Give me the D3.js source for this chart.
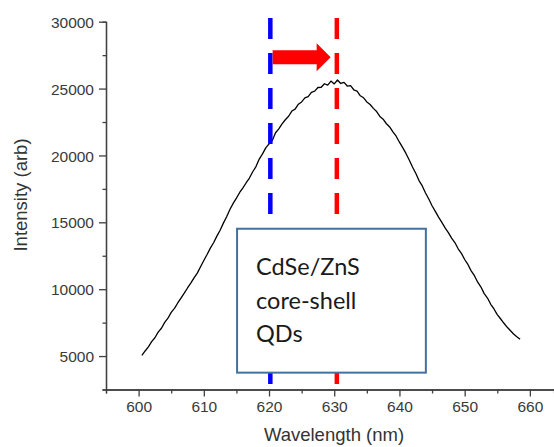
<!doctype html>
<html>
  <head>
    <style>
      body { margin: 0; background: white; }
      svg { display: block; font-family: 'Liberation Sans', Arial, sans-serif; }
      .axis path, .axis line { stroke: #404040; stroke-width: 1.3; }
      .axis text { fill: #3a3a3a; font-size: 15.5px; }
      .title { fill: #333; font-size: 18.5px; }
      .note { fill: #1a1a1a; font-size: 23.5px; font-family: 'Lato', 'Liberation Sans', sans-serif; }
    </style>
    <script src="https://d3js.org/d3.v7.min.js"></script>
  </head>
  <body onload='init()'>
    <svg id="chart" width=554 height=447></svg>
    <script>
      // spectrum, 0.5 nm steps
      var wavelength = [
        600.5,601,601.5,602,602.5,603,603.5,604,604.5,605,605.5,606,606.5,607,607.5,608,608.5,609,609.5,610,
        610.5,611,611.5,612,612.5,613,613.5,614,614.5,615,615.5,616,616.5,617,617.5,618,618.5,619,619.5,620,
        620.5,621,621.5,622,622.5,623,623.5,624,624.5,625,625.5,626,626.5,627,627.5,628,628.5,629,629.5,630,
        630.5,631,631.5,632,632.5,633,633.5,634,634.5,635,635.5,636,636.5,637,637.5,638,638.5,639,639.5,640,
        640.5,641,641.5,642,642.5,643,643.5,644,644.5,645,645.5,646,646.5,647,647.5,648,648.5,649,649.5,650,
        650.5,651,651.5,652,652.5,653,653.5,654,654.5,655,655.5,656,656.5,657,657.5,658,658.5
      ];
      var intensity = [
        5050,5380,5690,6080,6370,6790,7080,7520,7830,8270,8570,8970,9340,9700,10090,10450,10850,11200,11680,12140,
        12590,13070,13470,13970,14410,14940,15420,15960,16420,16810,17230,17580,17960,18310,18780,19170,19730,20120,20570,20860,
        21110,21700,21990,22360,22670,22930,23320,23460,23830,24000,24300,24390,24720,24810,25080,25100,25360,25260,25560,25350,
        25640,25380,25460,25190,25220,24910,24810,24460,24310,24000,23810,23520,23280,22920,22710,22370,22130,21760,21440,20990,
        20580,20150,19660,19140,18670,18120,17720,17190,16740,16240,15820,15390,14990,14580,14230,13820,13490,13020,12680,12220,
        11850,11370,11010,10520,10160,9670,9340,8870,8520,8100,7790,7470,7170,6910,6650,6450,6260
      ];
      var xTicks = [600, 610, 620, 630, 640, 650, 660];
      var yTicks = [5000, 10000, 15000, 20000, 25000, 30000];
      var markerLines = [620.2, 630.4];            // blue, red
      var markerColors = ["#0000ff", "#ff0000"];
      var arrowFrom = 620.55, arrowTo = 629.45, arrowLevel = 27350;
      var noteLines = ["CdSe/ZnS", "core-shell", "QDs"];

      function init(){
        var svg = d3.select("#chart");

        var x = d3.scaleLinear().domain([595, 663.7]).range([106, 554]);
        var y = d3.scaleLinear().domain([2500, 30000]).range([389.5, 21.7]);

        // minor ticks first, then the major axes on top
        svg.append("g").attr("class", "axis")
          .attr("transform", "translate(0,389.5)")
          .call(d3.axisBottom(x).tickValues(d3.range(595, 664, 10)).tickSize(4).tickFormat(""));
        svg.append("g").attr("class", "axis")
          .attr("transform", "translate(106,0)")
          .call(d3.axisLeft(y).tickValues(d3.range(2500, 30000, 5000)).tickSize(3.5).tickFormat(""));

        var gx = svg.append("g").attr("class", "axis")
          .attr("transform", "translate(0,389.5)")
          .call(d3.axisBottom(x).tickValues(xTicks).tickSizeInner(7).tickSizeOuter(0).tickPadding(4)
                .tickFormat(d3.format("d")));
        var gy = svg.append("g").attr("class", "axis")
          .attr("transform", "translate(106,0)")
          .call(d3.axisLeft(y).tickValues(yTicks).tickSizeInner(7).tickSizeOuter(0).tickPadding(5)
                .tickFormat(d3.format("d")));
        gy.selectAll("text").attr("dy", "0.36em");

        svg.append("text").attr("class", "title")
          .attr("text-anchor", "middle")
          .attr("x", 334).attr("y", 441)
          .text("Wavelength (nm)");
        svg.append("text").attr("class", "title")
          .attr("text-anchor", "middle")
          .attr("transform", "translate(27,195) rotate(-90)")
          .text("Intensity (arb)");

        // spectrum
        var pts = wavelength.map(function(w, i){ return [w, intensity[i]]; });
        svg.append("path")
          .datum(pts)
          .attr("fill", "none")
          .attr("stroke", "#000")
          .attr("stroke-width", 1.3)
          .attr("stroke-linejoin", "round")
          .attr("d", d3.line().x(function(d){ return x(d[0]); }).y(function(d){ return y(d[1]); }));

        // dashed marker lines
        svg.selectAll(".marker")
          .data(markerLines)
          .enter().append("line")
          .attr("x1", function(d){ return x(d); })
          .attr("x2", function(d){ return x(d); })
          .attr("y1", y(30280))
          .attr("y2", y(2920))
          .attr("stroke", function(d, i){ return markerColors[i]; })
          .attr("stroke-width", 4.5)
          .attr("stroke-dasharray", "21,14");

        // shift arrow
        var ax0 = x(arrowFrom), ax1 = x(arrowTo), ay = y(arrowLevel);
        var headLen = 14, shaft = 7, head = 14;
        svg.append("path")
          .attr("fill", "#ff0000")
          .attr("d", "M" + ax0 + "," + (ay - shaft) +
                     "L" + (ax1 - headLen) + "," + (ay - shaft) +
                     "L" + (ax1 - headLen) + "," + (ay - head) +
                     "L" + ax1 + "," + ay +
                     "L" + (ax1 - headLen) + "," + (ay + head) +
                     "L" + (ax1 - headLen) + "," + (ay + shaft) +
                     "L" + ax0 + "," + (ay + shaft) + "Z");

        // label box
        var bx0 = x(615.1), bx1 = x(644.05), by0 = y(14520), by1 = y(3760);
        svg.append("rect")
          .attr("x", bx0).attr("y", by0)
          .attr("width", bx1 - bx0).attr("height", by1 - by0)
          .attr("fill", "white")
          .attr("stroke", "#41719c")
          .attr("stroke-width", 2);
        svg.selectAll(".note")
          .data(noteLines)
          .enter().append("text")
          .attr("class", "note")
          .attr("x", bx0 + 19)
          .attr("y", function(d, i){ return by0 + 46.5 + i * 33.5; })
          .text(function(d){ return d; });
      }
    </script>
  </body>
</html>
